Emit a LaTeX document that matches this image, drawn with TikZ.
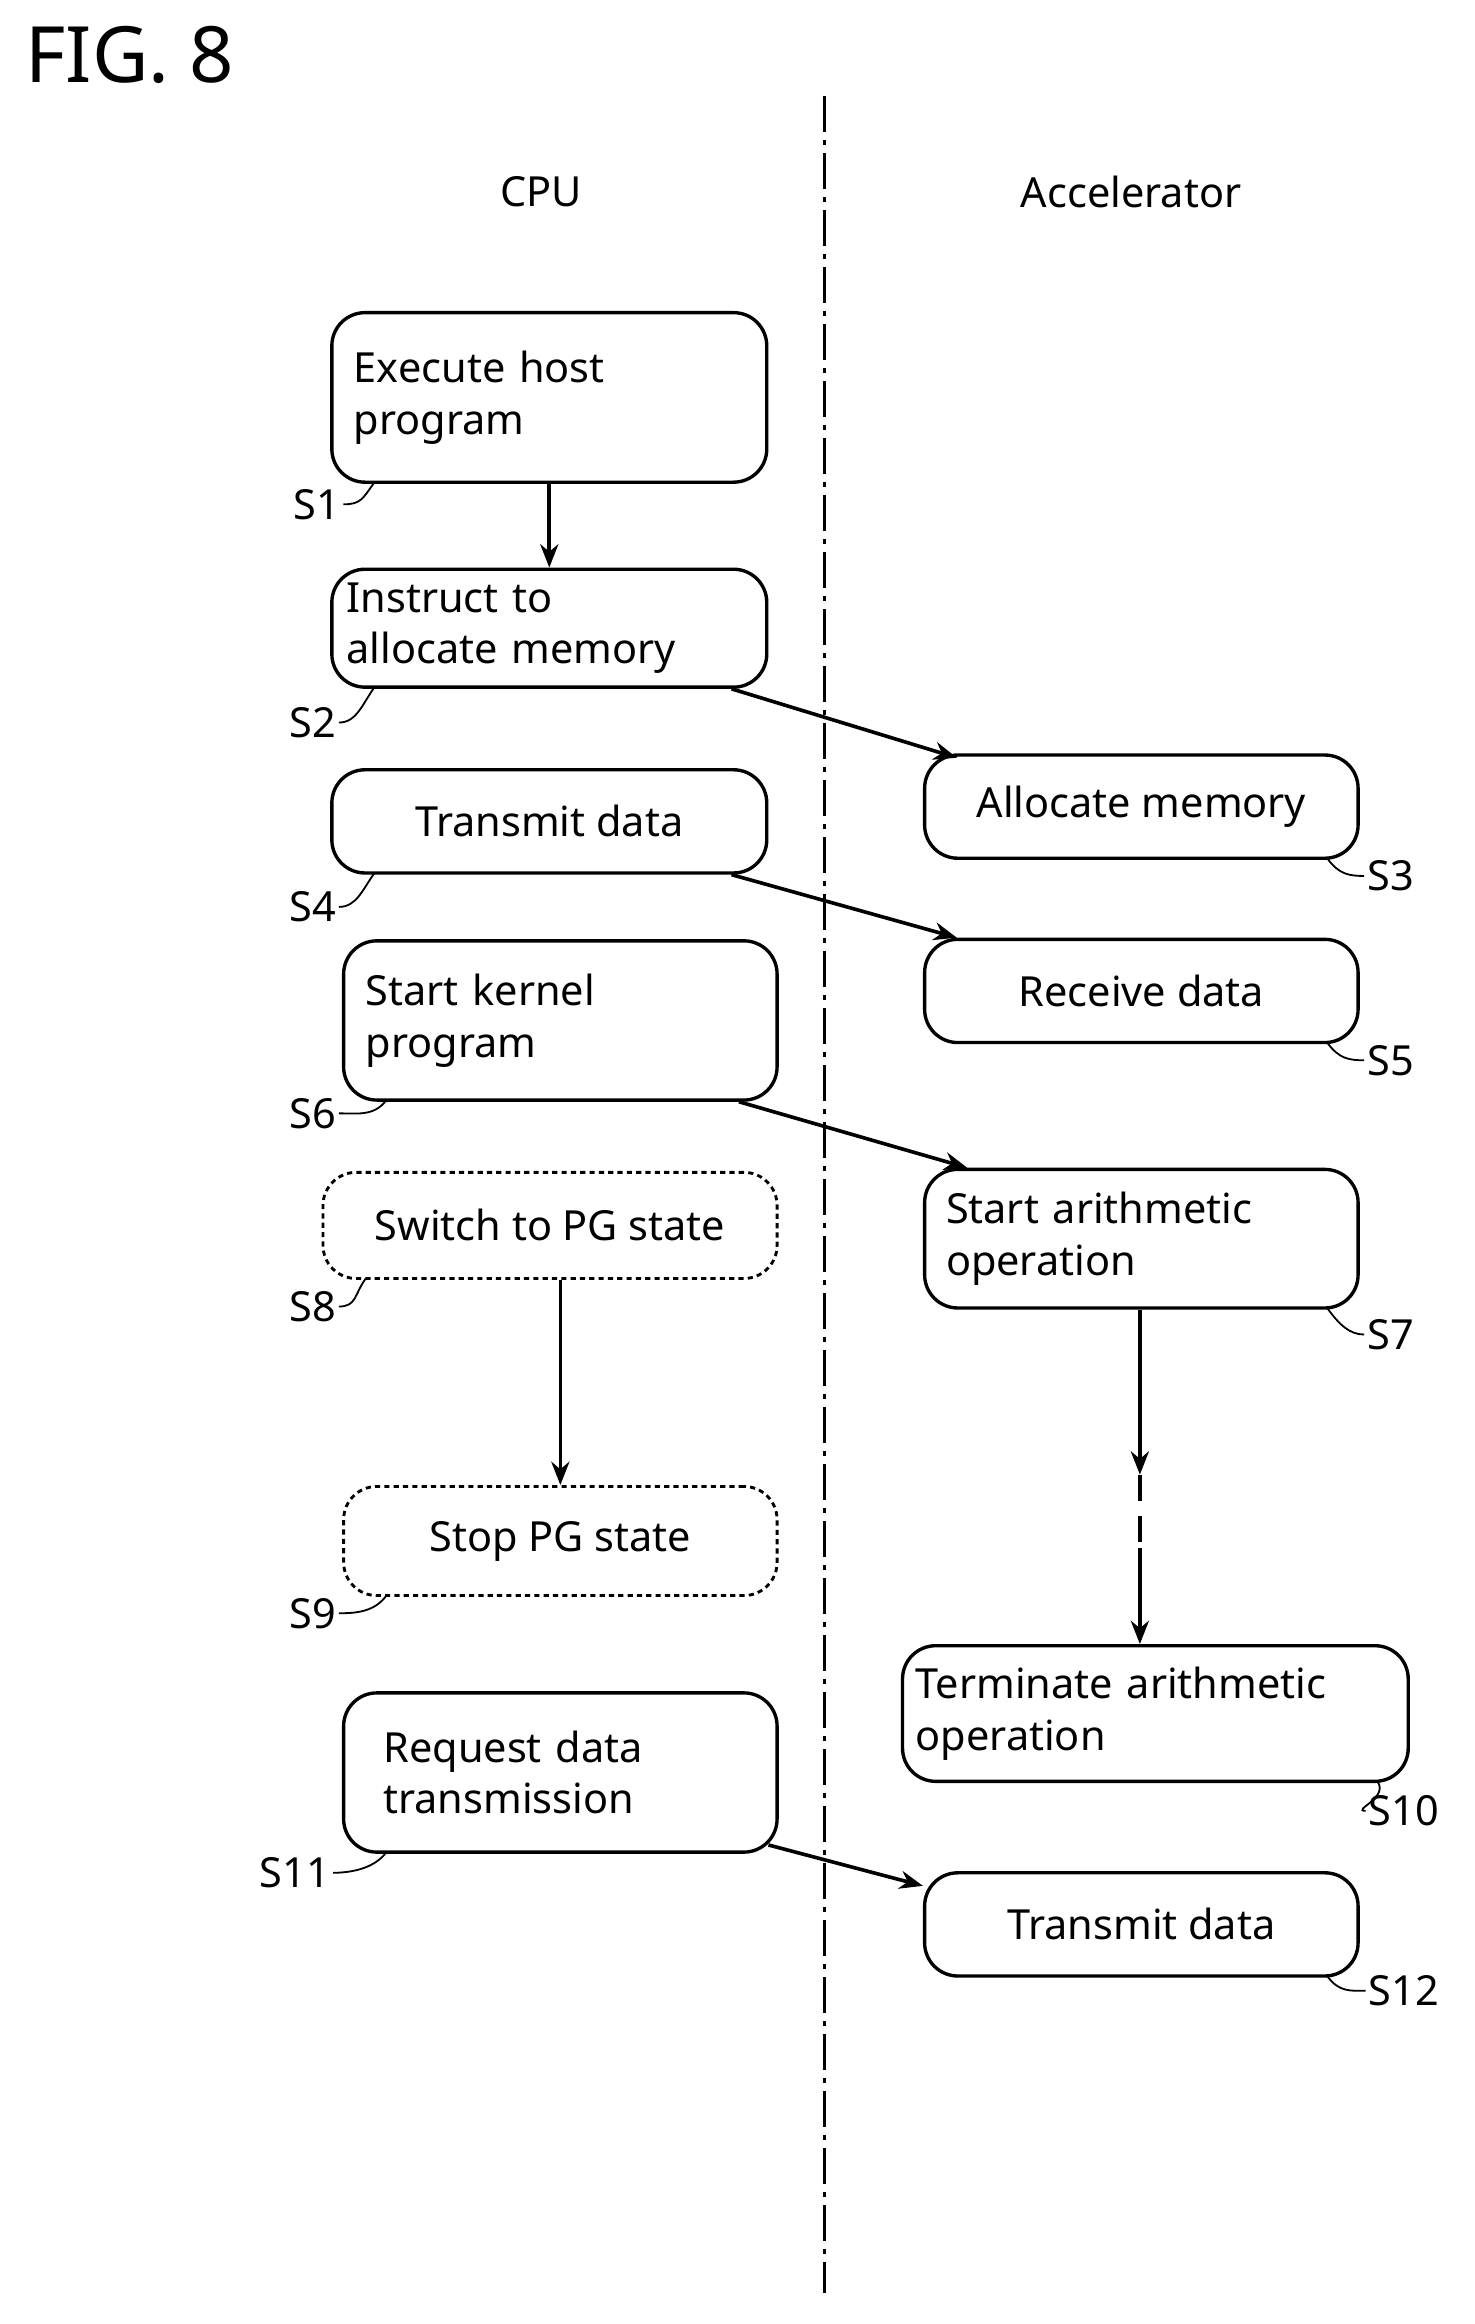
\documentclass[tikz,border=0pt]{standalone}
\usepackage{fontspec}
\setmainfont{Noto Sans}
\usetikzlibrary{calc,arrows.meta}
\begin{document}
\begin{tikzpicture}[x=0.02cm,y=-0.02cm,
 every node/.style={font=\fontsize{16}{20}\selectfont},
 box/.style={draw,rounded corners=0.45cm,line width=1.3pt,inner sep=0pt},
 dbox/.style={box,dash pattern=on 2pt off 1.6pt,line width=1.1pt},
 arr/.style={line width=1.4pt,-{Stealth[length=9pt,width=7pt]}},
 lbl/.style={inner sep=1pt},
 tl/.style={line width=0.7pt}]
\useasboundingbox (0,0) rectangle (1000,1576);
\node[font=\fontsize{30}{34}\selectfont] (fig) at (88,37) {FIG. 8};
\coordinate (dtop) at (559,65); \coordinate (dbot) at (559,1555);
\draw[line width=1.4pt,dash pattern=on 14pt off 3pt on 2pt off 3pt] (dtop)--(dbot);
\node (cpu) at (367,130) {CPU};
\node (acc) at (767,130) {Accelerator};
% boxes
\node[box,minimum width=5.9cm,minimum height=2.3cm,text width=5.3cm,align=left] (S1) at (372.5,269.5) {Execute host\\program};
\node[box,minimum width=5.9cm,minimum height=1.6cm,text width=5.5cm,align=left] (S2) at (372.5,426) {Instruct to\\allocate memory};
\node[box,minimum width=5.88cm,minimum height=1.4cm,align=center] (S3) at (774,547) {Allocate memory};
\node[box,minimum width=5.9cm,minimum height=1.4cm,align=center] (S4) at (372.5,557) {Transmit data};
\node[box,minimum width=5.88cm,minimum height=1.4cm,align=center] (S5) at (774,672) {Receive data};
\node[box,minimum width=5.88cm,minimum height=2.16cm,text width=5.28cm,align=left] (S6) at (380,692) {Start kernel\\program};
\node[box,minimum width=5.88cm,minimum height=1.88cm,text width=5.3cm,align=left] (S7) at (774,840) {Start arithmetic\\operation};
\node[dbox,minimum width=6.16cm,minimum height=1.44cm,align=center] (S8) at (373,831) {Switch to PG state};
\node[dbox,minimum width=5.88cm,minimum height=1.48cm,align=center] (S9) at (380,1045) {Stop PG state};
\node[box,minimum width=6.86cm,minimum height=1.84cm,text width=6.5cm,align=left] (S10) at (783.5,1162) {Terminate arithmetic\\operation};
\node[box,minimum width=5.88cm,minimum height=2.16cm,text width=4.8cm,align=left] (S11) at (380,1202) {Request data\\transmission};
\node[box,minimum width=5.88cm,minimum height=1.4cm,align=center] (S12) at (774,1305) {Transmit data};
% labels
\node[lbl] (L1) at (215,342) {S1};
\node[lbl] (L2) at (212,490) {S2};
\node[lbl] (L4) at (212,615) {S4};
\node[lbl] (L6) at (212,755) {S6};
\node[lbl] (L8) at (212,886) {S8};
\node[lbl] (L9) at (212,1094) {S9};
\node[lbl] (L11) at (200,1270) {S11};
\node[lbl] (L3) at (943,594) {S3};
\node[lbl] (L5) at (943,719) {S5};
\node[lbl] (L7) at (943,905) {S7};
\node[lbl] (L10) at (952,1228) {S10};
\node[lbl] (L12) at (952,1350) {S12};
\foreach \l/\b in {L1/S1,L2/S2,L4/S4,L6/S6,L8/S8,L9/S9,L11/S11}
  \draw[tl] (\l.east) .. controls ($(\l.east)+(12,0)$) and ($(\b.south west)+(22,10)$) .. ($(\b.south west)+(30,-1)$);
\foreach \l/\b in {L3/S3,L5/S5,L7/S7,L10/S10,L12/S12}
  \draw[tl] (\l.west) .. controls ($(\l.west)+(-10,0)$) and ($(\b.south east)+(-14,10)$) .. ($(\b.south east)+(-22,-1)$);
% arrows
\draw[arr] (S1.south) -- (S2.north);
\draw[arr] ($(S2.south east)+(-25,0)$) -- ($(S3.north west)+(23,3)$);
\draw[arr] ($(S4.south east)+(-25,0)$) -- ($(S5.north west)+(23,0)$);
\draw[arr] ($(S6.south east)+(-27,0)$) -- ($(S7.north west)+(30,0)$);
\draw[arr] (S8.south-|S9.north) -- (S9.north);
\coordinate (m1) at (773,1000); \coordinate (m2) at (773,1050);
\draw[arr] (S7.south-|m1) -- (m1);
\draw[line width=1.4pt,dash pattern=on 10pt off 6pt] (m1)--(m2);
\draw[arr] (m2) -- (S10.north-|m2);
\draw[arr] ($(S11.south east)+(-7,-6)$) -- ($(S12.north west)+(0,10)$);
\end{tikzpicture}
\end{document}
